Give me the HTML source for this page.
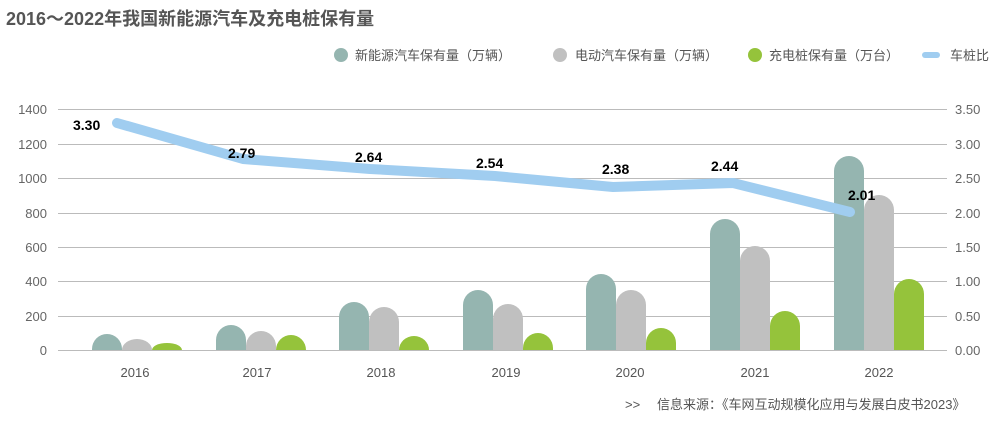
<!DOCTYPE html>
<html><head><meta charset="utf-8"><style>
body{margin:0;background:#fff;width:996px;height:421px;overflow:hidden}
svg{display:block}
text{font-family:"Liberation Sans","Noto Sans CJK SC",sans-serif}
</style></head><body>
<svg width="996" height="421" xmlns="http://www.w3.org/2000/svg">
<text x="6" y="25" font-size="18" font-weight="bold" fill="#555">2016～2022年我国新能源汽车及充电桩保有量</text>
<g font-size="13" fill="#555">
<circle cx="341" cy="55" r="7" fill="#95b5b0"/><text x="355" y="60">新能源汽车保有量（万辆）</text>
<circle cx="560" cy="55" r="7" fill="#c0c0c0"/><text x="575" y="60">电动汽车保有量（万辆）</text>
<circle cx="755" cy="55" r="7" fill="#95c33b"/><text x="769" y="60">充电桩保有量（万台）</text>
<line x1="925" y1="55" x2="937" y2="55" stroke="#a0cdf0" stroke-width="6" stroke-linecap="round"/><text x="950" y="60">车桩比</text>
</g>
<g stroke="#bbb" stroke-width="1">
<line x1="58" x2="947" y1="109.5" y2="109.5"/><line x1="58" x2="947" y1="144.5" y2="144.5"/>
<line x1="58" x2="947" y1="178.5" y2="178.5"/><line x1="58" x2="947" y1="213.5" y2="213.5"/>
<line x1="58" x2="947" y1="247.5" y2="247.5"/><line x1="58" x2="947" y1="281.5" y2="281.5"/>
<line x1="58" x2="947" y1="316.5" y2="316.5"/><line x1="58" x2="947" y1="350.5" y2="350.5"/>
</g>
<g font-size="13" fill="#666" text-anchor="end" font-family="Liberation Serif">
<text x="47" y="114">1400</text><text x="47" y="149">1200</text><text x="47" y="183">1000</text>
<text x="47" y="218">800</text><text x="47" y="252">600</text><text x="47" y="286">400</text>
<text x="47" y="321">200</text><text x="47" y="355">0</text>
</g>
<g font-size="13" fill="#666" font-family="Liberation Serif">
<text x="955" y="114">3.50</text><text x="955" y="149">3.00</text><text x="955" y="183">2.50</text>
<text x="955" y="218">2.00</text><text x="955" y="252">1.50</text><text x="955" y="286">1.00</text>
<text x="955" y="321">0.50</text><text x="955" y="355">0.00</text>
</g>
<g font-size="13" fill="#555" text-anchor="middle" font-family="Liberation Serif">
<text x="135" y="377">2016</text><text x="257" y="377">2017</text><text x="381" y="377">2018</text>
<text x="506" y="377">2019</text><text x="630" y="377">2020</text><text x="755" y="377">2021</text><text x="879" y="377">2022</text>
</g>
<g fill="#95b5b0">
<path d="M92 350V349A15 15 0 0 1 122 349V350Z"/>
<path d="M216 350V340A15 15 0 0 1 246 340V350Z"/>
<path d="M339 350V317A15 15 0 0 1 369 317V350Z"/>
<path d="M463 350V305A15 15 0 0 1 493 305V350Z"/>
<path d="M586 350V289A15 15 0 0 1 616 289V350Z"/>
<path d="M710 350V234A15 15 0 0 1 740 234V350Z"/>
<path d="M834 350V171A15 15 0 0 1 864 171V350Z"/>
</g>
<g fill="#c0c0c0">
<path d="M122 350A15 11 0 0 1 152 350Z"/>
<path d="M246 350V346A15 15 0 0 1 276 346V350Z"/>
<path d="M369 350V322A15 15 0 0 1 399 322V350Z"/>
<path d="M493 350V319A15 15 0 0 1 523 319V350Z"/>
<path d="M616 350V305A15 15 0 0 1 646 305V350Z"/>
<path d="M740 350V261A15 15 0 0 1 770 261V350Z"/>
<path d="M864 350V210A15 15 0 0 1 894 210V350Z"/>
</g>
<g fill="#95c33b">
<path d="M152 350A15 7 0 0 1 182 350Z"/>
<path d="M276 350A15 15 0 0 1 306 350Z"/>
<path d="M399 350A15 14 0 0 1 429 350Z"/>
<path d="M523 350V348A15 15 0 0 1 553 348V350Z"/>
<path d="M646 350V343A15 15 0 0 1 676 343V350Z"/>
<path d="M770 350V326A15 15 0 0 1 800 326V350Z"/>
<path d="M894 350V294A15 15 0 0 1 924 294V350Z"/>
</g>
<polyline points="117,123 243,159 370,169 495,176 613,187 733,183 850,212" fill="none" stroke="#a0cdf0" stroke-width="10" stroke-linecap="round" stroke-linejoin="round"/>
<g font-size="14" font-weight="bold" fill="#000">
<text x="73" y="130">3.30</text><text x="228" y="158">2.79</text><text x="355" y="162">2.64</text>
<text x="476" y="168">2.54</text><text x="602" y="174">2.38</text><text x="711" y="171">2.44</text><text x="848" y="200">2.01</text>
</g>
<text x="625" y="409" font-size="13" fill="#555">&gt;&gt;</text>
<text x="657" y="409" font-size="13" fill="#555">信息来源：《车网互动规模化应用与发展白皮书2023》</text>
</svg>
</body></html>
